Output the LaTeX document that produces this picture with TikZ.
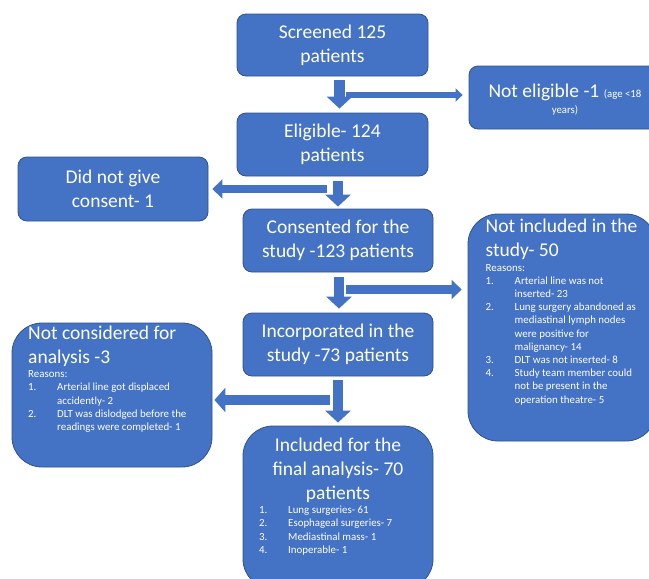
\documentclass[tikz,border=0pt]{standalone}
\usepackage{fontspec}
\setmainfont{Carlito}
\usetikzlibrary{arrows.meta,calc}
\definecolor{boxblue}{HTML}{4472C4}
\definecolor{edgeblue}{HTML}{2F528F}
\newcommand\itm[1]{\makebox[29pt][l]{#1}}
\newcommand\ind{\hspace*{29pt}}
\newcommand\bigfont{\fontsize{19.5}{24}\selectfont}
\newcommand\smallfont{\fontsize{10.9}{13.3}\selectfont}
\newcommand\tinyfont{\fontsize{10.9}{13.2}\selectfont}
\newcommand\notefont{\fontsize{10.8}{12}\selectfont}
\begin{document}
\begin{tikzpicture}[x=1pt,y=-1pt,
  box/.style={draw=edgeblue, line width=0.8pt, fill=boxblue, rounded corners=9pt,
    text=white, align=center, font=\bigfont, inner sep=0pt},
  bigbox/.style={box, rounded corners=30pt},
  txt/.style={text=white, inner sep=0pt},
  vdown/.style={boxblue, line width=10.5pt, -{Triangle[width=25pt,length=12pt]}},
  hthin/.style={boxblue, line width=6pt, -{Triangle[width=13pt,length=7pt]}},
  hmid/.style={boxblue, line width=8.5pt, -{Triangle[width=19pt,length=10pt]}},
  hwide/.style={boxblue, line width=10pt, -{Triangle[width=24pt,length=11pt]}}]
\useasboundingbox (0,0) rectangle (649,579);
\clip (0,0) rectangle (649,579);

% boxes
\node[box, minimum width=191pt, minimum height=62pt] (scr) at (332.5,45) {Screened 125\\patients};
\node[box, minimum width=191pt, minimum height=63pt] (elig) at (332.5,144.5) {Eligible- 124\\patients};
\node[box, minimum width=192pt, minimum height=63pt] (noteli) at (565,97.5) {};
\node[box, minimum width=190pt, minimum height=64pt] (dng) at (113,189) {Did not give\\consent- 1};
\node[box, minimum width=190pt, minimum height=63pt] (cons) at (338,240.5) {Consented for the\\study -123 patients};
\node[box, minimum width=190pt, minimum height=63pt] (inc) at (338,344.5) {Incorporated in the\\study -73 patients};
\node[bigbox, minimum width=188pt, minimum height=227pt] (notinc) at (562,327.5) {};
\node[bigbox, minimum width=200pt, minimum height=144pt] (notcons) at (112,395) {};
\node[bigbox, minimum width=190pt, minimum height=163pt] (incl) at (338,507.5) {};

% texts in boxes
\node[txt, anchor=base] (notelitA) at (565,97) {\bigfont Not eligible -1 {\notefont (age <18}};
\node[txt, anchor=base] (notelitB) at (565,113) {\notefont years)};

\node[txt, anchor=base west] (notinct) at (485.5,232.5) {\parbox[t]{170pt}{\raggedright
  \bigfont Not included in the\\study- 50\par\vspace{1.3pt}
  \tinyfont Reasons:\\
  \itm{1.}Arterial line was not\\
  \ind inserted- 23\\
  \itm{2.}Lung surgery abandoned as\\
  \ind mediastinal lymph nodes\\
  \ind were positive for\\
  \ind malignancy- 14\\
  \itm{3.}DLT was not inserted- 8\\
  \itm{4.}Study team member could\\
  \ind not be present in the\\
  \ind operation theatre- 5}};

\node[txt, anchor=base west] (notconst) at (28,339) {\parbox[t]{180pt}{\raggedright
  \bigfont Not considered for\\analysis -3\par\vspace{1.2pt}
  \smallfont Reasons:\\
  \itm{1.}Arterial line got displaced\\
  \ind accidently- 2\\
  \itm{2.}DLT was dislodged before the\\
  \ind readings were completed- 1}};

\node[txt, anchor=base] (inclt) at (338,451.5) {\parbox[t]{190pt}{\centering
  \bigfont Included for the\\final analysis- 70\\patients}};
\node[txt, anchor=base west] (incll) at (259,513.5) {\parbox[t]{170pt}{\raggedright
  \smallfont
  \itm{1.}Lung surgeries- 61\\
  \itm{2.}Esophageal surgeries- 7\\
  \itm{3.}Mediastinal mass- 1\\
  \itm{4.}Inoperable- 1}};

% junction coordinates
\coordinate (j1) at (346,95);
\coordinate (j2) at (327,189);
\coordinate (j3) at (346,289.5);
\coordinate (j4) at (330,400);
\coordinate (d1s) at ($(scr.south)+(7,4)$);
\coordinate (d1e) at ($(elig.north)+(7,-4)$);
\coordinate (d2s) at ($(elig.south -| cons.north)+(0,5)$);
\coordinate (d2e) at ($(cons.north)+(0,-2)$);
\coordinate (d3s) at ($(cons.south)+(1,5)$);
\coordinate (d3e) at ($(inc.north)+(1,-4)$);
\coordinate (d4s) at ($(inc.south)+(0,4)$);
\coordinate (d4e) at ($(incl.north)+(0,-3)$);

% arrows
\draw[vdown] (d1s) -- (d1e);
\draw[hthin, shorten >=6pt] (j1) -- (j1 -| noteli.west);
\draw[hmid, shorten >=4pt] (j2) -- (j2 -| dng.east);
\draw[vdown] (d2s) -- (d2e);
\draw[vdown] (d3s) -- (d3e);
\draw[hmid, shorten >=6pt] (j3) -- (j3 -| notinc.west);
\draw[vdown] (d4s) -- (d4e);
\draw[hwide, shorten >=2pt] (j4) -- (j4 -| notcons.east);
\end{tikzpicture}
\end{document}
